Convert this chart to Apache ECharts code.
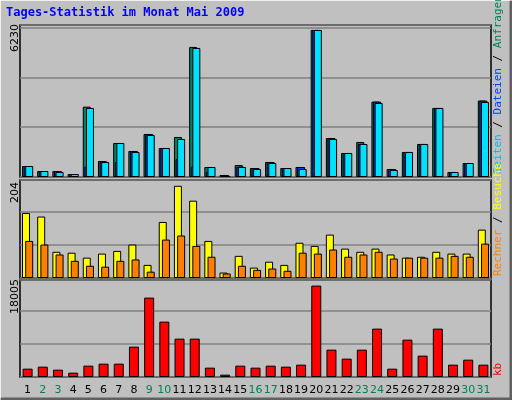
<!DOCTYPE html>
<html><head><meta charset="utf-8">
<script src="https://cdn.jsdelivr.net/npm/echarts@6/dist/echarts.min.js"></script>
<style>html,body{margin:0;padding:0;background:#c0c0c0}#c{width:512px;height:400px}</style>
</head><body><div id="c"></div>
<script>
const days = Array.from({length:31},(_,i)=>String(i+1));
const weekendDays = ['2','3','9','10','16','17','23','24','30','31'];
const anfragen = [466,254,254,127,2981,678,1441,1102,1823,1229,1696,5511,424,85,509,381,636,381,424,6230,1653,1017,1484,3193,339,1060,1399,2925,212,593,3236];
const dateien  = [466,254,254,127,440,660,636,1102,1823,1229,763,438,212,85,436,381,636,381,424,6230,1653,1017,1400,3193,339,1060,1399,2925,212,593,3236];
const seiten   = [466,254,212,127,2925,636,1441,1060,1780,1229,1611,5468,424,42,424,339,593,381,339,6230,1611,1017,1399,3137,297,1060,1399,2925,212,593,3179];
const besuche  = [144,136,58,56,45,54,60,74,29,124,204,171,82,12,49,23,36,29,78,71,96,65,58,65,52,45,47,58,54,54,107];
const rechner  = [82,74,52,38,27,25,38,41,14,85,94,71,47,10,27,18,21,16,56,54,63,47,52,58,43,45,45,45,49,47,76];
const kb = [1643,2037,1445,854,2234,2628,2628,5979,15637,10906,7556,7556,1840,460,2234,1840,2234,2037,2431,18005,5387,3614,5387,9527,1643,7358,4205,9527,2431,3416,2431];
const maxLabels = ['6230','204','18005'];

const G=[{left:20,width:471,top:25,height:152},{left:20,width:471,top:180,height:98},{left:20,width:471,top:280,height:97}];
const ymax=[6440,216.8,19106], yint=[2110,73,6500];
const wk='#00805c';
const chart=echarts.init(document.getElementById('c'));
const bs={borderColor:'#000',borderWidth:1};
chart.setOption({
  backgroundColor:'#c0c0c0',animation:false,
  grid:G.map(g=>Object.assign({show:true,backgroundColor:'#c0c0c0',borderColor:'#000',borderWidth:1.5},g)),
  xAxis:G.map((g,i)=>({type:'category',data:days,gridIndex:i,axisLine:{show:false},axisTick:{show:false},
    axisLabel:{show:i===2,margin:8,fontFamily:'DejaVu Sans',fontSize:11,
      color:(v)=>weekendDays.includes(v)?wk:'#000',interval:0}})),
  yAxis:G.map((g,i)=>({type:'value',gridIndex:i,min:0,max:ymax[i],interval:yint[i],axisLabel:{show:false},
    axisLine:{show:false},axisTick:{show:false},splitLine:{lineStyle:{color:'#808080',width:1.5}}})),
  series:[
    {type:'bar',data:anfragen,xAxisIndex:0,yAxisIndex:0,barWidth:8,barGap:'-80%',itemStyle:Object.assign({color:'#00805c'},bs)},
    {type:'bar',data:dateien,xAxisIndex:0,yAxisIndex:0,barWidth:8,barGap:'-80%',itemStyle:Object.assign({color:'#0040ff'},bs)},
    {type:'bar',data:seiten,xAxisIndex:0,yAxisIndex:0,barWidth:8,barGap:'-80%',itemStyle:Object.assign({color:'#00e0ff'},bs)},
    {type:'bar',data:besuche,xAxisIndex:1,yAxisIndex:1,barWidth:8,barGap:'-60%',itemStyle:Object.assign({color:'#ffff00'},bs)},
    {type:'bar',data:rechner,xAxisIndex:1,yAxisIndex:1,barWidth:8,barGap:'-60%',itemStyle:Object.assign({color:'#ff8000'},bs)},
    {type:'bar',data:kb,xAxisIndex:2,yAxisIndex:2,barWidth:10,itemStyle:Object.assign({color:'#ff0000'},bs)}
  ],
  graphic:[
    {type:'polyline',shape:{points:[[1,399],[511,399],[511,1]]},style:{stroke:'#606060',lineWidth:3,fill:null},silent:true},
    {type:'polyline',shape:{points:[[0,398],[0,0],[510,0]]},style:{stroke:'#ffffff',lineWidth:1.5,fill:null},silent:true},
    {type:'text',left:6,top:7,style:{text:'Tages-Statistik im Monat Mai 2009',fill:'#0000ff',font:'bold 12px "DejaVu Sans Mono"'}},
    {type:'text',x:10,y:52,rotation:Math.PI/2,style:{text:maxLabels[0],fill:'#000',font:'11px "DejaVu Sans"'}},
    {type:'text',x:10,y:203,rotation:Math.PI/2,style:{text:maxLabels[1],fill:'#000',font:'11px "DejaVu Sans"'}},
    {type:'text',x:10,y:314,rotation:Math.PI/2,style:{text:maxLabels[2],fill:'#000',font:'11px "DejaVu Sans"'}},
    {type:'text',x:493,y:174,rotation:Math.PI/2,style:{text:'{a|Seiten} {s|/} {b|Dateien} {s|/} {c|Anfragen}',
      font:'11px "DejaVu Sans Mono"',rich:{a:{fill:'#00c0e0',font:'11px "DejaVu Sans Mono"'},s:{fill:'#000',font:'11px "DejaVu Sans Mono"'},b:{fill:'#0040ff',font:'11px "DejaVu Sans Mono"'},c:{fill:'#00805c',font:'11px "DejaVu Sans Mono"'}}}},
    {type:'text',x:493,y:276,rotation:Math.PI/2,style:{text:'{a|Rechner} {s|/} {b|Besuche}',
      font:'11px "DejaVu Sans Mono"',rich:{a:{fill:'#ff8000',font:'11px "DejaVu Sans Mono"'},s:{fill:'#000',font:'11px "DejaVu Sans Mono"'},b:{fill:'#ffff00',font:'11px "DejaVu Sans Mono"'}}}},
    {type:'text',x:493,y:376,rotation:Math.PI/2,style:{text:'kb',fill:'#ff0000',font:'11px "DejaVu Sans Mono"'}}
  ]
});
</script></body></html>
